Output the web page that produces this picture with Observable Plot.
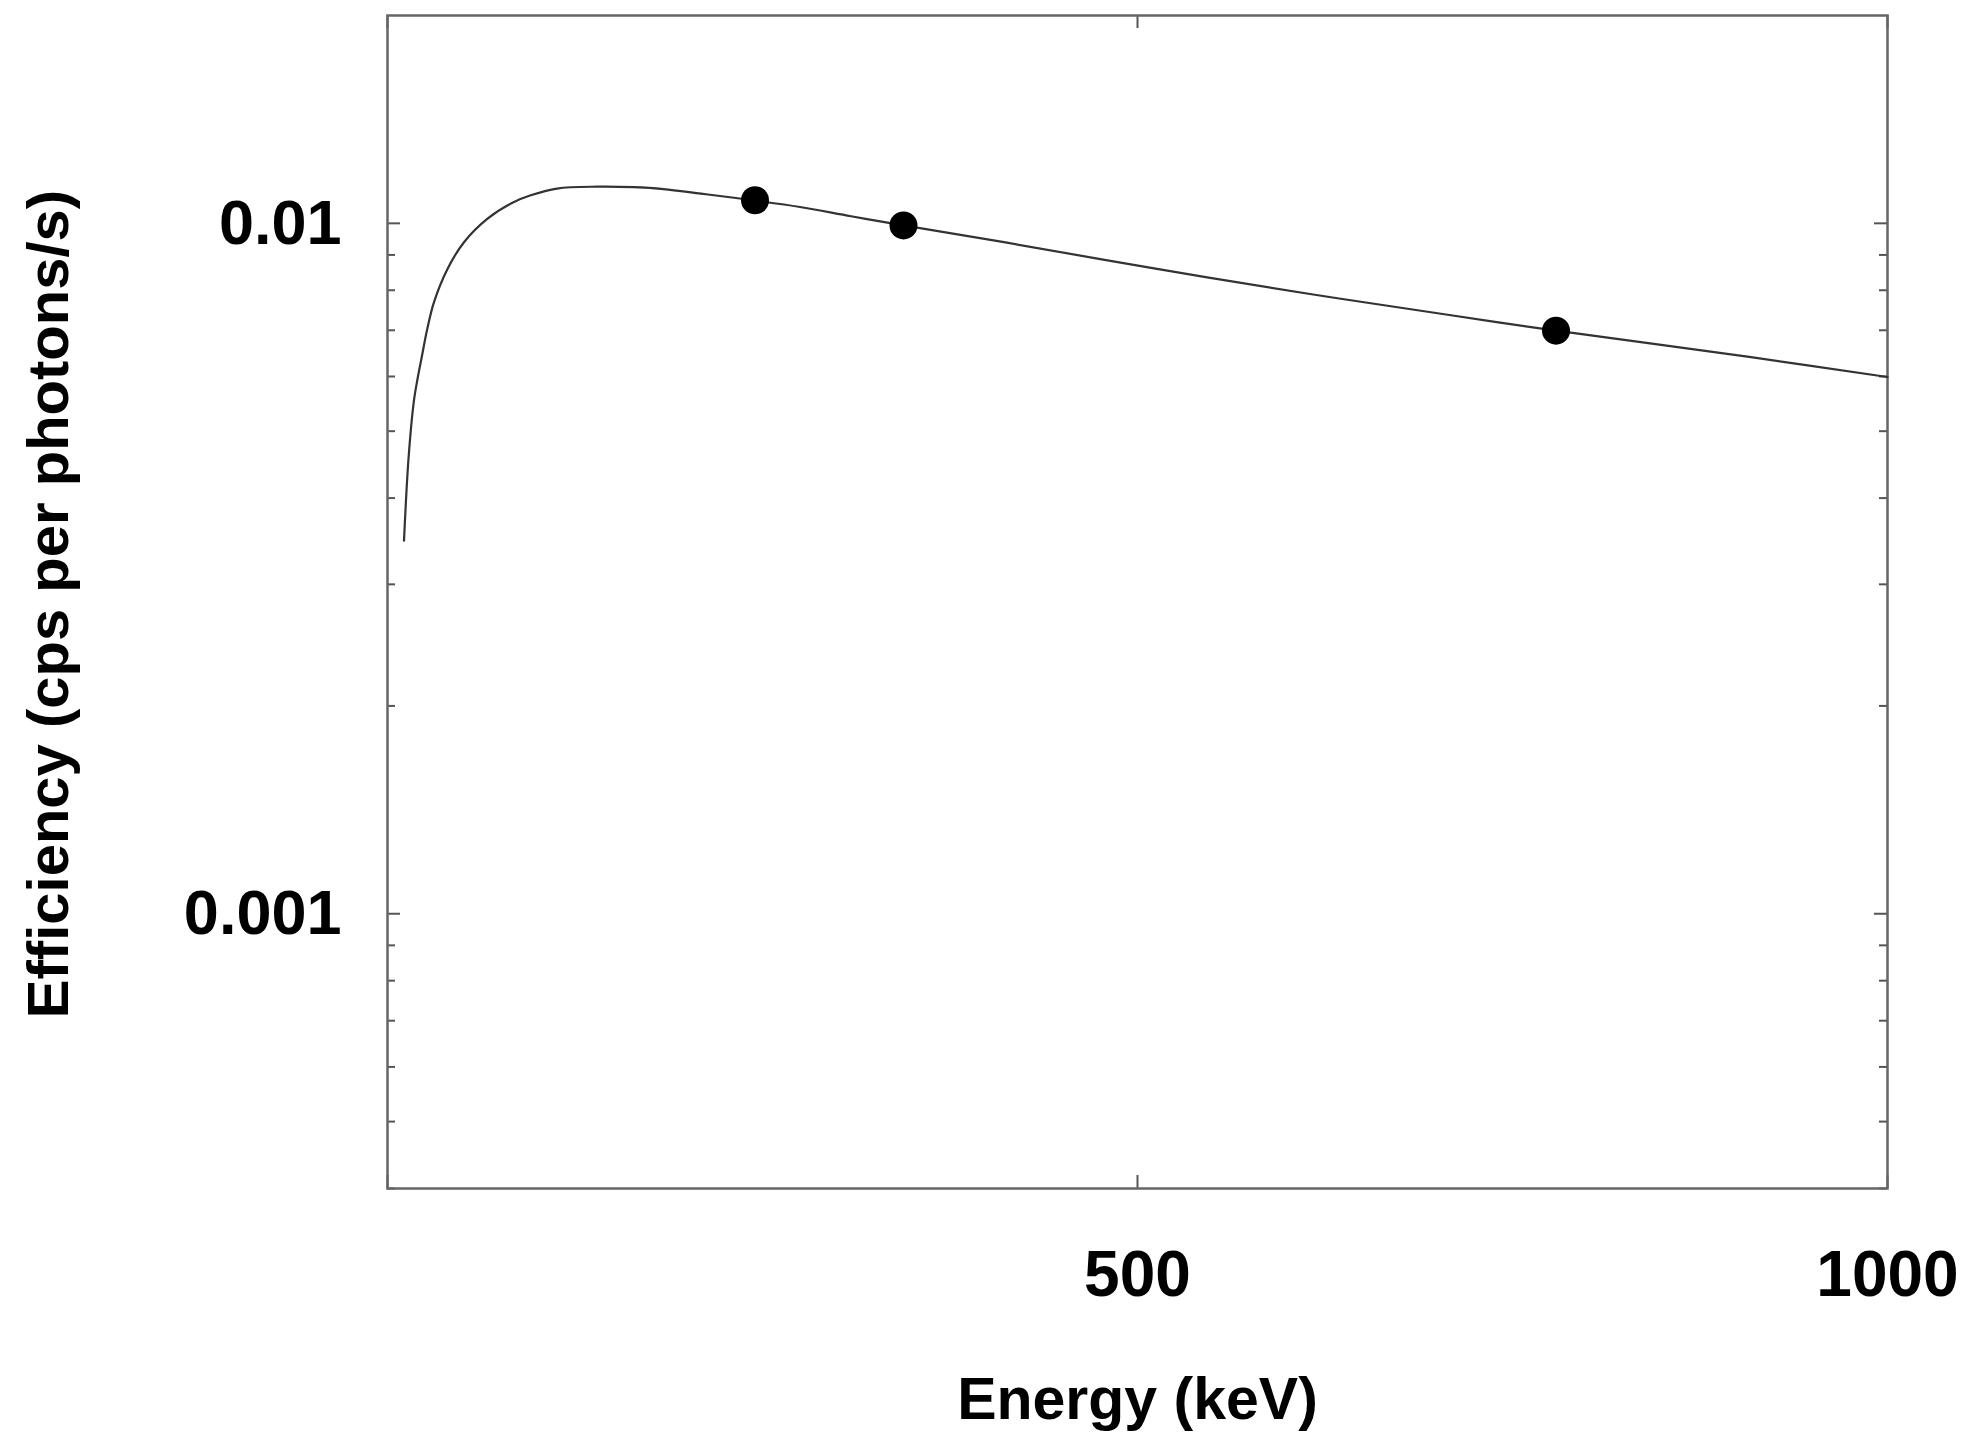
<!DOCTYPE html>
<html>
<head>
<meta charset="utf-8">
<script src="https://cdn.jsdelivr.net/npm/d3@7"></script>
<script src="https://cdn.jsdelivr.net/npm/@observablehq/plot@0.6"></script>
<style>
  html, body { margin: 0; padding: 0; background: #fff; }
  svg { display: block; }
</style>
</head>
<body>
<div id="chart"></div>
<script>
// Fitted efficiency curve (keV, cps per photons/s)
const curveEnergy = [11, 14, 17.5, 20, 23, 26.5, 31, 40, 51, 66.5, 84, 95, 113, 140, 164, 184, 209, 231, 245, 275, 309, 344, 411, 513, 615, 709, 779, 909, 1000];
const curveEff = [0.00347, 0.00456, 0.00551, 0.00595, 0.00643, 0.00703, 0.00769, 0.00859, 0.00939, 0.01015, 0.01073, 0.01097, 0.01123, 0.0113, 0.01128, 0.01121, 0.01104, 0.01089, 0.01079, 0.01056, 0.01024, 0.00993, 0.00939, 0.00859, 0.0079, 0.00736, 0.00699, 0.0064, 0.00599];

// Measured points
const pointEnergy = [245, 344, 779];
const pointEff = [0.0108, 0.00993, 0.00699];

// Axes
const xTickValues = [0, 500, 1000];
const xTickLabels = [500, 1000];
const yMajorTicks = [0.001, 0.01];
const yMajorLabels = ["0.001", "0.01"];
const yMinorTicks = [0.0004, 0.0005, 0.0006, 0.0007, 0.0008, 0.0009, 0.002, 0.003, 0.004, 0.005, 0.006, 0.007, 0.008, 0.009];
const xTitle = "Energy (keV)";
const yTitle = "Efficiency (cps per photons/s)";

const curve = curveEnergy.map((e, i) => ({energy: e, eff: curveEff[i]}));
const points = pointEnergy.map((e, i) => ({energy: e, eff: pointEff[i]}));
const yLabels = yMajorTicks.map((v, i) => ({v, label: yMajorLabels[i]}));

const W = 1978, H = 1449;
const mL = 387, mR = 91, mT = 15, mB = 261;
const innerW = W - mL - mR;
const innerH = H - mT - mB;
const majorLen = 13, minorLen = 8;
const tickColor = "#555";
const font = "'Liberation Sans', Arial, Helvetica, sans-serif";

const chart = Plot.plot({
  width: W,
  height: H,
  marginLeft: mL,
  marginRight: mR,
  marginTop: mT,
  marginBottom: mB,
  style: {fontFamily: font, background: "#fff", color: "#000"},
  x: {domain: [0, 1000], axis: null},
  y: {type: "log", domain: [0.0004, 0.02], axis: null},
  marks: [
    // inward y ticks, left and right
    Plot.tickY(yMajorTicks, {y: d => d, stroke: tickColor, strokeWidth: 2, insetRight: innerW - majorLen}),
    Plot.tickY(yMajorTicks, {y: d => d, stroke: tickColor, strokeWidth: 2, insetLeft: innerW - majorLen}),
    Plot.tickY(yMinorTicks, {y: d => d, stroke: tickColor, strokeWidth: 2, insetRight: innerW - minorLen}),
    Plot.tickY(yMinorTicks, {y: d => d, stroke: tickColor, strokeWidth: 2, insetLeft: innerW - minorLen}),
    // inward x ticks, bottom and top
    Plot.tickX(xTickValues, {x: d => d, stroke: tickColor, strokeWidth: 2, insetTop: innerH - majorLen}),
    Plot.tickX(xTickValues, {x: d => d, stroke: tickColor, strokeWidth: 2, insetBottom: innerH - majorLen}),
    Plot.frame({stroke: "#666", strokeWidth: 2.5}),
    // curve and points
    Plot.line(curve, {x: "energy", y: "eff", curve: "catmull-rom", stroke: "#333", strokeWidth: 2.2}),
    Plot.dot(points, {x: "energy", y: "eff", r: 14, fill: "#000", stroke: null}),
    // tick labels
    Plot.text(yLabels, {y: "v", text: "label", frameAnchor: "left", dx: -46, textAnchor: "end", lineAnchor: "middle",
      fontSize: 63, fontWeight: "bold", fill: "#000"}),
    Plot.text(xTickLabels, {x: d => d, text: d => String(d), frameAnchor: "bottom", dy: 87, textAnchor: "middle", lineAnchor: "middle",
      fontSize: 64, fontWeight: "bold", fill: "#000"}),
    // axis titles
    Plot.text([xTitle], {text: d => d, frameAnchor: "bottom", dy: 212, textAnchor: "middle", lineAnchor: "middle",
      fontSize: 59, fontWeight: "bold", fill: "#000"}),
    Plot.text([yTitle], {text: d => d, frameAnchor: "left", dx: -338, dy: 2, rotate: -90, textAnchor: "middle", lineAnchor: "middle",
      fontSize: 58, fontWeight: "bold", fill: "#000"})
  ]
});
document.getElementById("chart").appendChild(chart);
</script>
</body>
</html>
